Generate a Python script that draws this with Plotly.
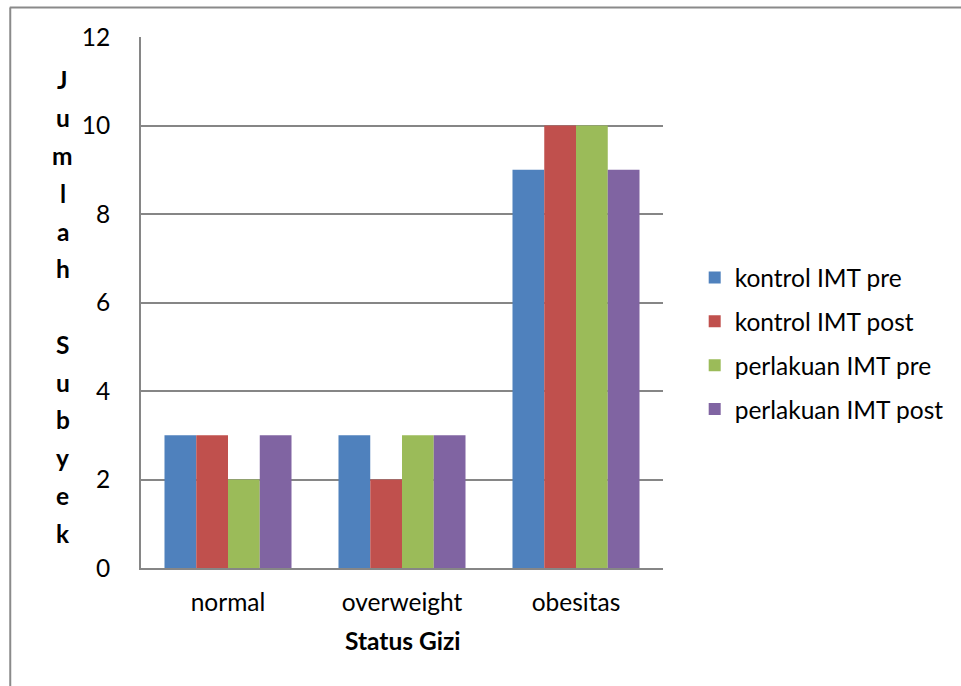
import plotly.graph_objects as go

categories = ["normal", "overweight", "obesitas"]
series_names = ["kontrol IMT pre", "kontrol IMT post", "perlakuan IMT pre", "perlakuan IMT post"]
kontrol_pre = [3, 3, 9]
kontrol_post = [3, 2, 10]
perlakuan_pre = [2, 3, 10]
perlakuan_post = [3, 3, 9]
y_ticks = [0, 2, 4, 6, 8, 10, 12]
x_title = "Status Gizi"
y_title_letters = ["J", "u", "m", "l", "a", "h", "", "S", "u", "b", "y", "e", "k"]

colors = ["#4F81BD", "#C0504D", "#9BBB59", "#8064A2"]
values = [kontrol_pre, kontrol_post, perlakuan_pre, perlakuan_post]

W, H = 961, 686
L, R, T, B = 141, 668, 37, 568
FONT = "Lato"
FS = 24.5

fig = go.Figure()
for i, (name, vals) in enumerate(zip(series_names, values)):
    fig.add_trace(go.Bar(
        x=categories, y=vals, name=name, legendgroup=name,
        marker=dict(color=colors[i], line=dict(width=0)),
    ))

def py(ypix):
    return (B - ypix) / (B - T)

def px(xpix):
    return (xpix - L) / (R - L)

annotations = []
for i, ch in enumerate(y_title_letters):
    if not ch:
        continue
    annotations.append(dict(
        text=f"<b>{ch}</b>", xref="paper", yref="paper",
        x=px(62), y=py(80 + i * 37.75), xanchor="center", yanchor="middle",
        showarrow=False, font=dict(family=FONT, size=FS, color="black"),
    ))
annotations.append(dict(
    text=f"<b>{x_title}</b>", xref="paper", yref="paper",
    x=0.5, y=py(641), xanchor="center", yanchor="middle",
    showarrow=False, font=dict(family=FONT, size=FS, color="black"),
))

shapes = [
    dict(type="line", xref="paper", yref="paper", x0=px(8.5), x1=px(970), y0=py(7.5), y1=py(7.5),
         line=dict(color="#8a8a8a", width=2)),
    dict(type="line", xref="paper", yref="paper", x0=px(9), x1=px(9), y0=py(7.5), y1=py(700),
         line=dict(color="#8a8a8a", width=2)),
]

fig.update_layout(
    width=W, height=H,
    margin=dict(l=L, r=W - R, t=T, b=H - B, pad=0),
    paper_bgcolor="white", plot_bgcolor="white",
    barmode="group", bargap=0.27, bargroupgap=0,
    font=dict(family=FONT, size=FS, color="black"),
    showlegend=True,
    legend=dict(
        x=px(700), y=py(255), xanchor="left", yanchor="top",
        font=dict(family=FONT, size=FS, color="black"),
        tracegroupgap=9, bgcolor="rgba(0,0,0,0)",
    ),
    annotations=annotations,
    shapes=shapes,
)
fig.update_xaxes(
    showline=True, linecolor="#868686", linewidth=2, mirror=False,
    ticks="", showgrid=False, ticklabelstandoff=12,
    tickfont=dict(family=FONT, size=FS, color="black"),
)
fig.update_yaxes(
    range=[0, 12], tickvals=y_ticks, ticktext=[str(v) for v in y_ticks],
    showline=True, linecolor="#868686", linewidth=2,
    showgrid=True, gridcolor="#868686", gridwidth=2,
    ticks="", ticklabelstandoff=24, zeroline=False,
    tickfont=dict(family=FONT, size=FS, color="black"),
)

fig.write_html(
    "out.html",
    config={"displayModeBar": False},
    post_script="document.body.style.margin='0';document.body.style.padding='0';",
)
